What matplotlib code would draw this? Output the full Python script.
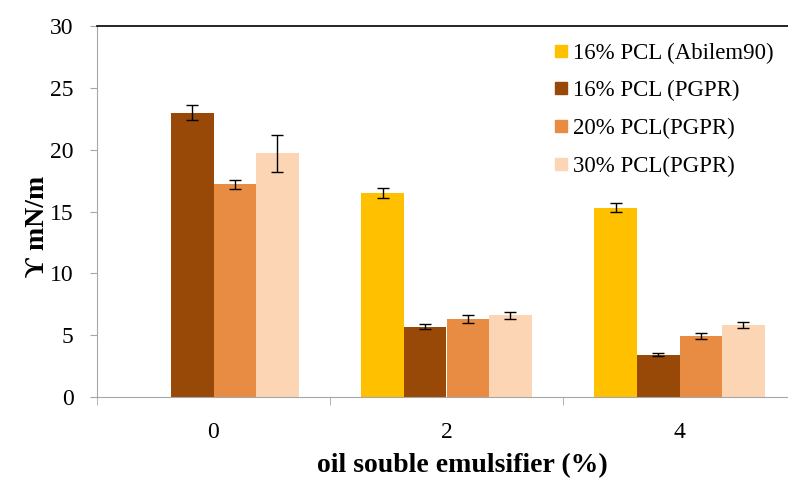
import numpy as np
import matplotlib
matplotlib.use("Agg")
import matplotlib.pyplot as plt
from matplotlib.lines import Line2D

plt.rcParams["font.family"] = ["Liberation Serif", "DejaVu Serif"]

# Interfacial tension by emulsifier concentration
categorias = ["0", "2", "4"]
series = ["16% PCL (Abilem90)", "16% PCL (PGPR)", "20% PCL(PGPR)", "30% PCL(PGPR)"]
colores = ["#FFC000", "#984807", "#E98C43", "#FCD5B5"]
valores = [
    [0.0, 16.5, 15.3],
    [23.0, 5.7, 3.4],
    [17.2, 6.3, 4.9],
    [19.7, 6.6, 5.85],
]
errores = [
    [0.0, 0.4, 0.35],
    [0.6, 0.2, 0.12],
    [0.35, 0.35, 0.25],
    [1.5, 0.3, 0.25],
]

fig = plt.figure(figsize=(7.88, 4.79), dpi=100)
ax = fig.add_axes([97 / 788, 82 / 479, 699 / 788, 371 / 479])

x = np.arange(len(categorias))
ancho = 0.1825
for i, (nombre, col) in enumerate(zip(series, colores)):
    pos = x + (i - 1.5) * ancho
    vals = np.array(valores[i])
    errs = np.array(errores[i])
    ax.bar(pos, vals, width=ancho, color=col, linewidth=0, label=nombre)
    mask = vals > 0
    ax.errorbar(pos[mask], vals[mask], yerr=errs[mask], fmt="none",
                ecolor="black", elinewidth=1.0, capsize=4.5, capthick=1.0)

ax.set_xlim(-0.5, 2.5)
ax.set_ylim(0, 30)
ax.set_yticks(range(0, 31, 5))
ax.set_xticks(x)
ax.set_xticklabels(categorias)
ax.set_xticks([-0.5, 0.5, 1.5, 2.5], minor=True)

gris = "#A6A6A6"
ax.spines["left"].set_color(gris)
ax.spines["bottom"].set_color(gris)
ax.spines["top"].set_color("black")
ax.spines["top"].set_linewidth(1.2)
ax.spines["right"].set_visible(False)
ax.tick_params(axis="y", direction="out", length=5, color=gris, pad=12,
               labelsize=17, labelcolor="black")
ax.tick_params(axis="x", which="major", length=0, pad=18, labelsize=17)
ax.tick_params(axis="x", which="minor", direction="out", length=6, color=gris)

fig.text(462 / 788, 1 - 466 / 479, "oil souble emulsifier (%)", ha="center",
         va="center", fontsize=20, fontweight="bold")
fig.text(38 / 788, 1 - 226 / 479, "ϒ mN/m", ha="center", va="center",
         rotation=90, fontsize=20, fontweight="bold")

handles = [Line2D([0], [0], marker="s", linestyle="none", markersize=8,
                  markerfacecolor=c, markeredgecolor=c) for c in colores]
fig.legend(handles, series, loc="upper left",
           bbox_to_anchor=(543 / 788, 1 - 31 / 479), frameon=False,
           fontsize=16.5, handlelength=0.6, handletextpad=0.2,
           labelspacing=0.72, borderpad=0)

fig.savefig("out.png", dpi=100)
